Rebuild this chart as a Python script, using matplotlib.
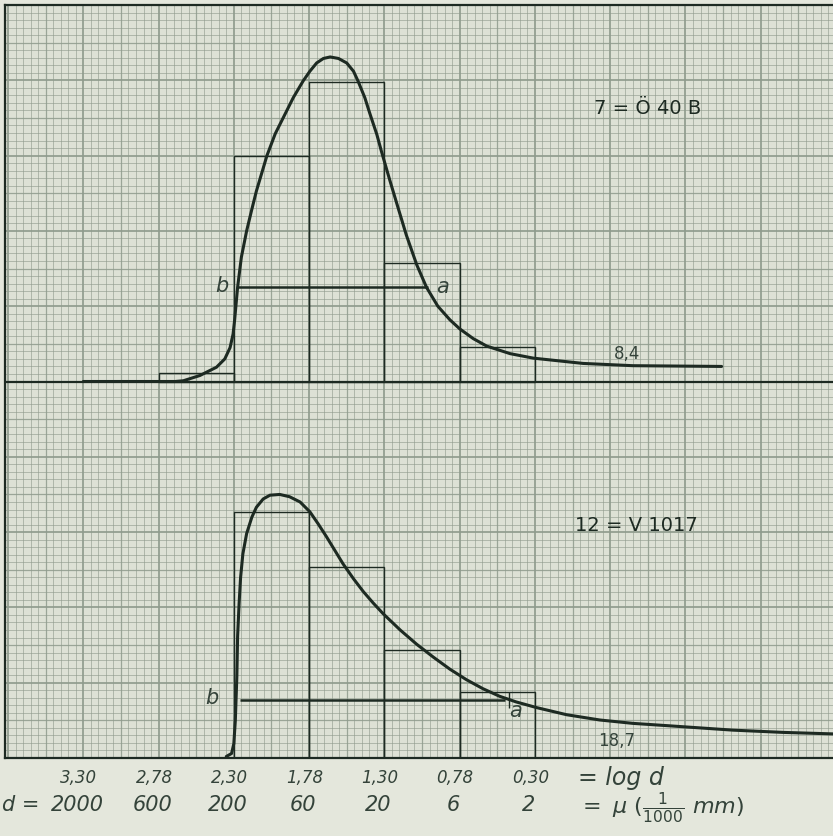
import numpy as np
import matplotlib
matplotlib.use("Agg")
import matplotlib.pyplot as plt

# class boundaries (grid squares) and their labels
edges = [1, 2, 3, 4, 5, 6, 7]
log_d = ["3,30", "2,78", "2,30", "1,78", "1,30", "0,78", "0,30"]
d_um = ["2000", "600", "200", "60", "20", "6", "2"]

# sample 7 = Ö 40 B (upper panel, baseline at 5)
top_left = [2, 3, 4, 5, 6]
top_h = [0.11, 3.0, 3.98, 1.57, 0.46]
top_cx = [1.0, 1.6, 2.0, 2.22, 2.33, 2.55, 2.77, 2.88, 2.95, 2.99, 3.01, 3.05,
          3.10, 3.17, 3.24, 3.30, 3.44, 3.55, 3.66, 3.79, 3.92, 4.01, 4.10,
          4.19, 4.28, 4.39, 4.50, 4.59, 4.65, 4.74, 4.81, 4.90, 4.96, 5.07,
          5.16, 5.29, 5.43, 5.56, 5.71, 5.87, 6.00, 6.18, 6.36, 6.67, 6.98,
          7.64, 8.30, 9.48]
top_cy = [5.0, 5.0, 5.0, 5.0, 5.01, 5.08, 5.19, 5.30, 5.45, 5.63, 5.81, 6.25,
          6.65, 7.00, 7.29, 7.53, 8.00, 8.29, 8.51, 8.77, 8.99, 9.12, 9.23,
          9.29, 9.31, 9.29, 9.23, 9.12, 8.99, 8.77, 8.55, 8.28, 8.06, 7.68,
          7.38, 6.95, 6.55, 6.25, 6.00, 5.82, 5.70, 5.57, 5.47, 5.37, 5.31,
          5.24, 5.21, 5.20]
top_ba = (3.04, 5.58, 6.25)

# sample 12 = V 1017 (lower panel, baseline at 0)
low_left = [3, 4, 5, 6]
low_h = [3.27, 2.54, 1.44, 0.87]
low_cx = [2.90, 2.97, 3.00, 3.02, 3.04, 3.05, 3.07, 3.09, 3.12, 3.17, 3.24,
          3.30, 3.39, 3.48, 3.61, 3.74, 3.88, 4.01, 4.12, 4.23, 4.34, 4.45,
          4.59, 4.72, 4.85, 4.98, 5.21, 5.43, 5.65, 5.87, 6.09, 6.31, 6.53,
          6.75, 7.02, 7.42, 7.86, 8.30, 8.75, 9.19, 9.63, 10.30, 10.96]
low_cy = [0.02, 0.06, 0.19, 0.50, 1.08, 1.61, 2.05, 2.40, 2.71, 2.98, 3.20,
          3.33, 3.44, 3.49, 3.50, 3.47, 3.40, 3.27, 3.11, 2.94, 2.76, 2.58,
          2.38, 2.21, 2.06, 1.92, 1.70, 1.51, 1.34, 1.18, 1.04, 0.92, 0.82,
          0.745, 0.67, 0.575, 0.505, 0.46, 0.43, 0.40, 0.37, 0.34, 0.32]
low_ba = (3.08, 6.60, 0.77)

paper = "#e4e7dc"
grid_c = "#8f9b8d"
ink = "#1d2a22"
pencil = "#34433a"

fig = plt.figure(figsize=(8.33, 8.36), dpi=100, facecolor=paper)
ax = fig.add_axes([5 / 833, (836 - 758) / 836, 828 / 833, 753 / 836])
ax.set_facecolor("#dde1d5")
ax.set_xlim(-0.04, 10.96)
ax.set_ylim(0, 10)

# graph paper
for v in np.arange(0, 11.01, 0.1):
    k = int(round(v * 10))
    if k % 10 == 0:
        lw, a = 1.3, 0.95
    elif k % 5 == 0:
        lw, a = 0.9, 0.85
    else:
        lw, a = 0.6, 0.7
    ax.axvline(v, color=grid_c, lw=lw, alpha=a, zorder=0)
    if v <= 10:
        ax.axhline(v, color=grid_c, lw=lw, alpha=a, zorder=0)

ax.set_xticks([])
ax.set_yticks([])
ax.spines["right"].set_visible(False)
for s in ["left", "top", "bottom"]:
    ax.spines[s].set_color(ink)
    ax.spines[s].set_linewidth(1.6)

# baseline of the upper panel
ax.axhline(5, color=ink, lw=1.6, zorder=2)

# histograms
ax.bar(top_left, top_h, width=1, bottom=5, align="edge", fill=False,
       edgecolor=ink, lw=1.0, zorder=3)
ax.bar(low_left, low_h, width=1, bottom=0, align="edge", fill=False,
       edgecolor=ink, lw=1.0, zorder=3)

# curves
ax.plot(top_cx, top_cy, color=ink, lw=2.2, solid_capstyle="round",
        solid_joinstyle="round", zorder=4)
ax.plot(low_cx, low_cy, color=ink, lw=2.2, solid_capstyle="round",
        solid_joinstyle="round", zorder=4)

# b - a lines
ax.hlines(top_ba[2], top_ba[0], top_ba[1], color=ink, lw=1.8, zorder=4)
ax.hlines(low_ba[2], low_ba[0], low_ba[1], color=ink, lw=1.8, zorder=4)
ax.vlines(low_ba[1] + 0.05, low_ba[2] - 0.1, low_ba[2] + 0.1, color=ink, lw=1.0, zorder=4)

hand = dict(color=pencil, style="italic", family="DejaVu Sans")
ax.text(2.84, 6.27, "b", fontsize=15, ha="center", va="center", **hand)
ax.text(5.77, 6.25, "a", fontsize=15, ha="center", va="center", **hand)
ax.text(2.71, 0.80, "b", fontsize=15, ha="center", va="center", **hand)
ax.text(6.74, 0.62, "a", fontsize=15, ha="center", va="center", **hand)
ax.text(8.23, 5.37, "8,4", fontsize=12, ha="center", va="center", color=pencil)
ax.text(8.09, 0.22, "18,7", fontsize=12, ha="center", va="center", color=pencil)

ax.text(8.50, 8.63, "7 = Ö 40 B", fontsize=14, ha="center", va="center", color=ink)
ax.text(8.35, 3.09, "12 = V 1017", fontsize=14, ha="center", va="center", color=ink)

# scale labels under the frame
for x, t1, t2 in zip(edges, log_d, d_um):
    ax.text(x - 0.06, -0.27, t1, fontsize=12, ha="center", va="center",
            clip_on=False, **hand)
    ax.text(x - 0.08, -0.63, t2, fontsize=15, ha="center", va="center",
            clip_on=False, **hand)
ax.text(7.57, -0.26, "= log d", fontsize=17, ha="left", va="center",
        clip_on=False, **hand)
ax.text(-0.085, -0.63, "d =", fontsize=15, ha="left", va="center",
        clip_on=False, **hand)
ax.text(7.57, -0.66, r"$=\ \mu\ (\frac{1}{1000}\ mm)$", fontsize=16, ha="left",
        va="center", clip_on=False, color=pencil)

fig.savefig("out.png", dpi=100, facecolor=paper)
